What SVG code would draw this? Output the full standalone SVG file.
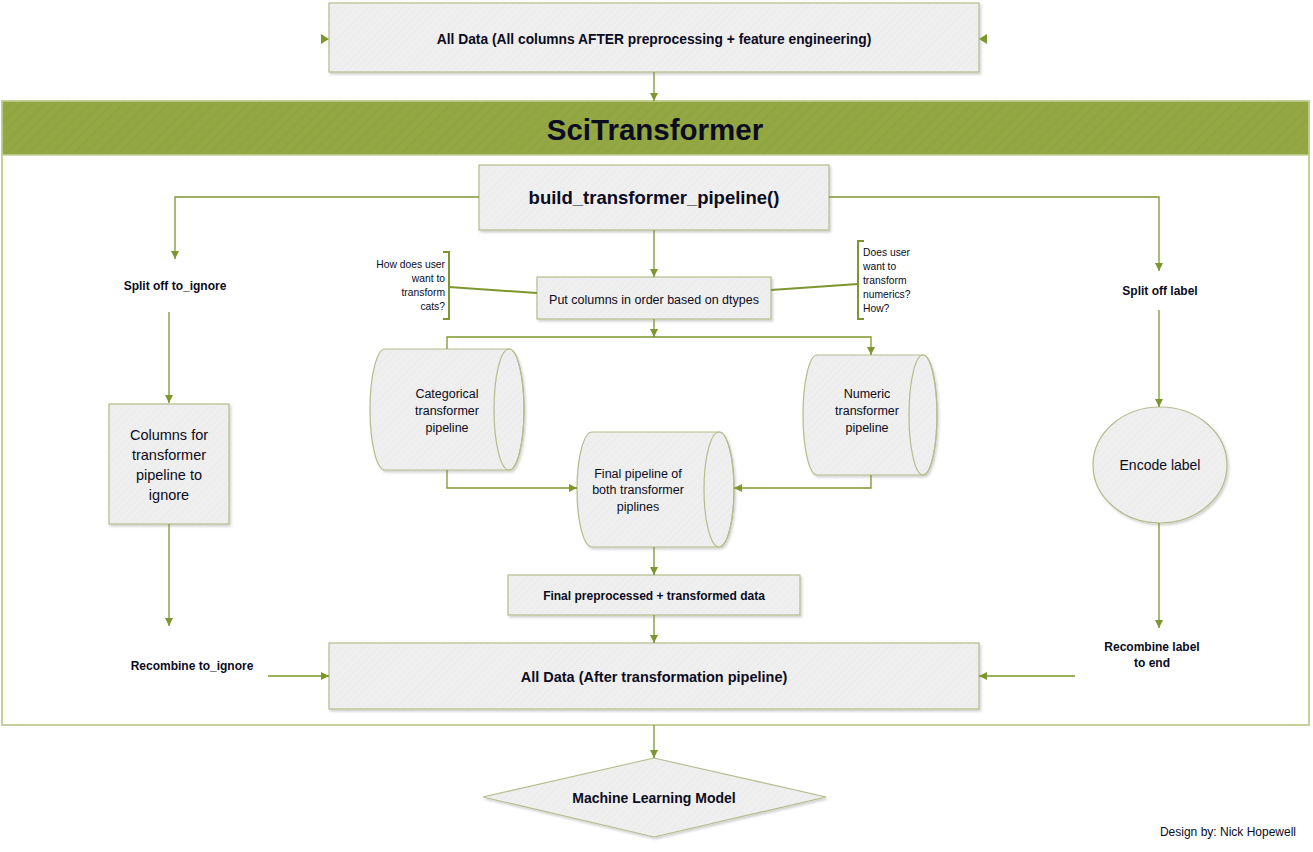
<svg xmlns="http://www.w3.org/2000/svg" width="1313" height="852" viewBox="0 0 1313 852">
<defs>
  <pattern id="hatch" width="5" height="5" patternUnits="userSpaceOnUse" patternTransform="rotate(45)">
    <rect width="5" height="5" fill="#efefef"/>
    <line x1="0" y1="0" x2="0" y2="5" stroke="#eaeaea" stroke-width="1.5"/>
  </pattern>
  <pattern id="ghatch" width="8" height="8" patternUnits="userSpaceOnUse" patternTransform="rotate(45)">
    <rect width="8" height="8" fill="#93a843"/>
    <line x1="0" y1="0" x2="0" y2="8" stroke="#8fa440" stroke-width="3"/>
  </pattern>
  <filter id="shadow" x="-10%" y="-10%" width="130%" height="140%">
    <feDropShadow dx="1.5" dy="2" stdDeviation="1.2" flood-color="#000" flood-opacity="0.18"/>
  </filter>
  <marker id="arr" viewBox="0 0 10 10" refX="10" refY="5" markerWidth="8" markerHeight="8" orient="auto" markerUnits="userSpaceOnUse">
    <path d="M0,0 L10,5 L0,10 Z" fill="#7d962e"/>
  </marker>
</defs>
<style>
  .box { fill: url(#hatch); stroke: #b4bc8c; stroke-width: 1.2; filter: url(#shadow); }
  .conn { fill: none; stroke: #7d962e; stroke-width: 1.3; }
  .call { fill: none; stroke: #7d962e; stroke-width: 2; }
  .t { font-family: "Liberation Sans", Arial, sans-serif; fill: #0b0b22; text-anchor: middle; }
  .b { font-weight: bold; }
  .s9 { font-size: 10.3px; }
  .s12 { font-size: 12px; }
  .s125 { font-size: 12.5px; }
  .s14 { font-size: 14px; }
</style>

<rect width="1313" height="852" fill="#ffffff"/>

<!-- container -->
<g id="scitransformer">
  <rect x="2" y="101" width="1307" height="624" fill="#ffffff" stroke="#c5d09b" stroke-width="2"/>
  <rect x="2" y="101" width="1307" height="54" fill="url(#ghatch)" stroke="#c5d09b" stroke-width="1.5"/>
  <text class="t b" x="655" y="140" font-size="29.5">SciTransformer</text>
</g>

<g id="all-data-top">
  <rect class="box" x="329" y="3" width="650" height="69"/>
  <text class="t b" x="654" y="44" font-size="13.8">All Data (All columns AFTER preprocessing + feature engineering)</text>
</g>

<g id="build">
  <rect class="box" x="479" y="165" width="350" height="65"/>
  <text class="t b" x="654" y="204" font-size="18.5">build_transformer_pipeline()</text>
</g>

<g id="split-ignore">
  <text class="t b s12" x="175" y="290">Split off to_ignore</text>
</g>

<g id="split-label">
  <text class="t b s12" x="1160" y="295">Split off label</text>
</g>

<g id="ignore-cols">
  <rect class="box" x="109" y="404" width="120" height="120"/>
  <text class="t" font-size="14.5" x="169" y="440">Columns for</text>
  <text class="t" font-size="14.5" x="169" y="460">transformer</text>
  <text class="t" font-size="14.5" x="169" y="480">pipeline to</text>
  <text class="t" font-size="14.5" x="169" y="500">ignore</text>
</g>

<g id="encode">
  <ellipse class="box" cx="1160" cy="465" rx="67" ry="58"/>
  <text class="t s14" x="1160" y="470">Encode label</text>
</g>

<g id="order">
  <rect class="box" x="537" y="277" width="234" height="42"/>
  <text class="t s125" x="654" y="304">Put columns in order based on dtypes</text>
</g>

<g id="callout-cats">
  <path class="call" d="M443,252 H449 V319 H443"/>
  <line class="call" x1="449" y1="287" x2="537" y2="293" stroke-width="1.5"/>
  <text class="t s9" x="445" y="268" style="text-anchor:end">How does user</text>
  <text class="t s9" x="445" y="282" style="text-anchor:end">want to</text>
  <text class="t s9" x="445" y="296" style="text-anchor:end">transform</text>
  <text class="t s9" x="445" y="310" style="text-anchor:end">cats?</text>
</g>

<g id="callout-nums">
  <path class="call" d="M864,241 H858 V319 H864"/>
  <line class="call" x1="771" y1="290" x2="858" y2="284" stroke-width="1.5"/>
  <text class="t s9" x="863" y="256" style="text-anchor:start">Does user</text>
  <text class="t s9" x="863" y="270" style="text-anchor:start">want to</text>
  <text class="t s9" x="863" y="284" style="text-anchor:start">transform</text>
  <text class="t s9" x="863" y="298" style="text-anchor:start">numerics?</text>
  <text class="t s9" x="863" y="312" style="text-anchor:start">How?</text>
</g>

<g id="cat-pipeline">
  <path class="box" d="M385,349 H509 A15,60.5 0 0 1 509,470 H385 A15,60.5 0 0 1 385,349 Z"/>
  <ellipse cx="509" cy="409.5" rx="15" ry="60.5" fill="none" stroke="#b4bc8c" stroke-width="1.2"/>
  <text class="t s125" x="447" y="398">Categorical</text>
  <text class="t s125" x="447" y="415">transformer</text>
  <text class="t s125" x="447" y="432">pipeline</text>
</g>

<g id="num-pipeline">
  <path class="box" d="M817,355 H923 A14,60 0 0 1 923,475 H817 A14,60 0 0 1 817,355 Z"/>
  <ellipse cx="923" cy="415" rx="14" ry="60" fill="none" stroke="#b4bc8c" stroke-width="1.2"/>
  <text class="t s125" x="867" y="398">Numeric</text>
  <text class="t s125" x="867" y="415">transformer</text>
  <text class="t s125" x="867" y="432">pipeline</text>
</g>

<g id="final-pipeline">
  <path class="box" d="M592,432 H719 A15,57.5 0 0 1 719,547 H592 A15,57.5 0 0 1 592,432 Z"/>
  <ellipse cx="719" cy="489.5" rx="15" ry="57.5" fill="none" stroke="#b4bc8c" stroke-width="1.2"/>
  <text class="t s125" x="638" y="478">Final pipeline of</text>
  <text class="t s125" x="638" y="494">both transformer</text>
  <text class="t s125" x="638" y="511">piplines</text>
</g>

<g id="final-data">
  <rect class="box" x="508" y="575" width="292" height="40"/>
  <text class="t b s12" x="654" y="600">Final preprocessed + transformed data</text>
</g>

<g id="recombine-ignore">
  <text class="t b s12" x="192" y="670">Recombine to_ignore</text>
</g>

<g id="recombine-label">
  <text class="t b s12" x="1152" y="651">Recombine label</text>
  <text class="t b s12" x="1152" y="667">to end</text>
</g>

<g id="all-data-bottom">
  <rect class="box" x="329" y="643" width="650" height="66"/>
  <text class="t b" font-size="14.5" x="654" y="682">All Data (After transformation pipeline)</text>
</g>

<g id="ml-model">
  <polygon class="box" points="483,797 654,758 826,797 654,837"/>
  <text class="t b" font-size="14" x="654" y="803">Machine Learning Model</text>
</g>

<g id="credit">
  <text class="t s12" x="1296" y="836" style="text-anchor:end">Design by: Nick Hopewell</text>
</g>

<g id="connectors">
  <path d="M321,34 L329,39 L321,44 Z" fill="#7d962e"/>
  <path d="M987,34 L979,39 L987,44 Z" fill="#7d962e"/>
  <line class="conn" x1="654" y1="72" x2="654" y2="101" marker-end="url(#arr)"/>
  <path class="conn" d="M479,197 H175 V259" marker-end="url(#arr)"/>
  <path class="conn" d="M829,197 H1159 V271" marker-end="url(#arr)"/>
  <line class="conn" x1="169" y1="312" x2="169" y2="403" marker-end="url(#arr)"/>
  <line class="conn" x1="169" y1="524" x2="169" y2="626" marker-end="url(#arr)"/>
  <line class="conn" x1="268" y1="676" x2="329" y2="676" marker-end="url(#arr)"/>
  <line class="conn" x1="1159" y1="310" x2="1159" y2="407" marker-end="url(#arr)"/>
  <line class="conn" x1="1159" y1="523" x2="1159" y2="628" marker-end="url(#arr)"/>
  <line class="conn" x1="1075" y1="676" x2="979" y2="676" marker-end="url(#arr)"/>
  <line class="conn" x1="654" y1="230" x2="654" y2="277" marker-end="url(#arr)"/>
  <line class="conn" x1="654" y1="319" x2="654" y2="337" marker-end="url(#arr)"/>
  <path class="conn" d="M447,349 V337 H871 V355" marker-end="url(#arr)"/>
  <path class="conn" d="M447,470 V488 H577" marker-end="url(#arr)"/>
  <path class="conn" d="M871,475 V488 H734" marker-end="url(#arr)"/>
  <line class="conn" x1="654" y1="547" x2="654" y2="575" marker-end="url(#arr)"/>
  <line class="conn" x1="654" y1="615" x2="654" y2="643" marker-end="url(#arr)"/>
  <line class="conn" x1="654" y1="725" x2="654" y2="758" marker-end="url(#arr)"/>
</g>
</svg>
